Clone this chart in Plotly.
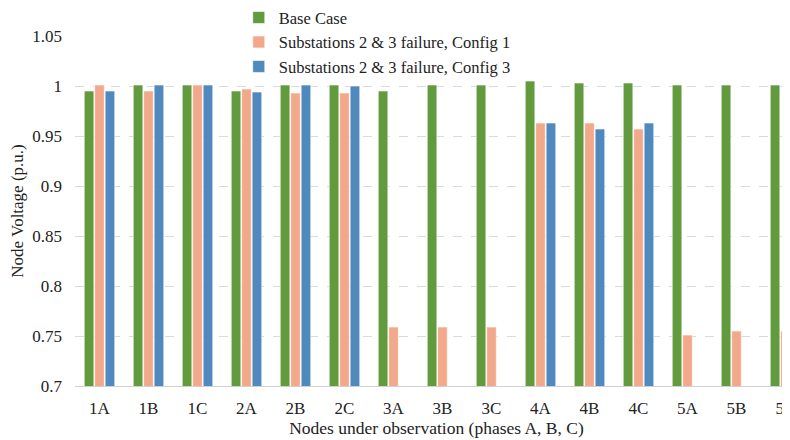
import plotly.graph_objects as go

categories = ["1A", "1B", "1C", "2A", "2B", "2C", "3A", "3B", "3C", "4A", "4B", "4C", "5A", "5B", "5C"]
base_case = [0.995, 1.001, 1.001, 0.995, 1.001, 1.001, 0.995, 1.001, 1.001, 1.005, 1.003, 1.003, 1.001, 1.001, 1.001]
config1 = [1.001, 0.995, 1.001, 0.997, 0.993, 0.993, 0.759, 0.759, 0.759, 0.963, 0.963, 0.957, 0.751, 0.755, 0.755]
config3 = [0.995, 1.001, 1.001, 0.994, 1.001, 1.000, 0.7, 0.7, 0.7, 0.963, 0.957, 0.963, 0.7, 0.7, 0.7]
y_ticks = [0.7, 0.75, 0.8, 0.85, 0.9, 0.95, 1.0, 1.05]
y_tick_labels = ["0.7", "0.75", "0.8", "0.85", "0.9", "0.95", "1", "1.05"]

font_family = "Times New Roman, Liberation Serif, serif"

fig = go.Figure()
series = [
    ("Base Case", base_case, "#629A3E"),
    ("Substations 2 & 3 failure, Config 1", config1, "#F2A98B"),
    ("Substations 2 & 3 failure, Config 3", config3, "#4F89BD"),
]
for name, vals, color in series:
    fig.add_trace(go.Bar(
        x=categories, y=vals, name=name,
        marker=dict(color=color, line=dict(color="rgba(255,255,255,0.6)", width=1)),
    ))

fig.update_layout(
    width=790, height=440,
    margin=dict(l=67, r=0, t=28, b=62, autoexpand=False),
    paper_bgcolor="white", plot_bgcolor="white",
    font=dict(family=font_family, size=16, color="#222"),
    barmode="group", bargap=0.36, bargroupgap=0.08,
    showlegend=True,
    legend=dict(x=0.2265, y=1.102, xanchor="left", yanchor="top", itemwidth=30,
                font=dict(family=font_family, size=16.5, color="#222"),
                bgcolor="rgba(255,255,255,0)", tracegroupgap=0),
    xaxis=dict(
        range=[-0.5, 14.255], showgrid=False, showline=True, linecolor="#D0D0D0", linewidth=1,
        ticks="", tickfont=dict(size=17), automargin=False, ticklabelstandoff=7,
        title=dict(text="Nodes under observation (phases A, B, C)", font=dict(size=17.5), standoff=2),
    ),
    yaxis=dict(
        range=[0.7, 1.05], tickvals=y_ticks, ticktext=y_tick_labels,
        showgrid=True, gridcolor="#DADADA", griddash="dash", gridwidth=1,
        zeroline=False, showline=False, ticks="", tickfont=dict(size=17),
        ticklabelstandoff=12, automargin=False,
        title=dict(text="Node Voltage (p.u.)", font=dict(size=17), standoff=10),
    ),
)

fig.write_html("out.html")
